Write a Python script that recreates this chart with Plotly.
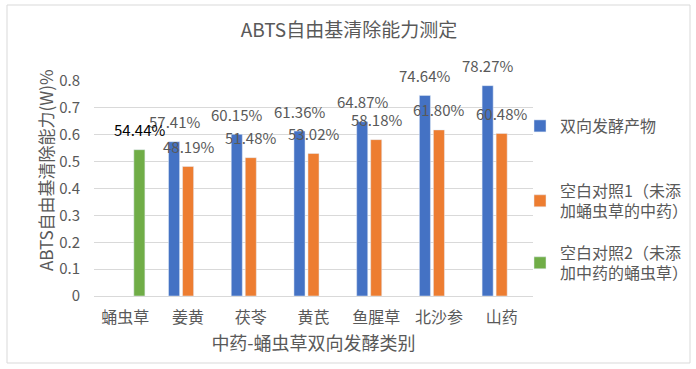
import plotly.graph_objects as go

categories = ["蛹虫草", "姜黄", "茯苓", "黄芪", "鱼腥草", "北沙参", "山药"]
series_names = ["双向发酵产物", "空白对照1（未添<br>加蛹虫草的中药）", "空白对照2（未添<br>加中药的蛹虫草）"]
fermented = [None, 0.5741, 0.6015, 0.6136, 0.6487, 0.7464, 0.7827]
blank1 = [None, 0.4819, 0.5148, 0.5302, 0.5818, 0.6180, 0.6048]
blank2 = [0.5444, None, None, None, None, None, None]
y_ticks = [0, 0.1, 0.2, 0.3, 0.4, 0.5, 0.6, 0.7, 0.8]

colors = ["#4472C4", "#ED7D31", "#70AD47"]
label_colors = ["#595959", "#595959", "#000000"]
xshifts = [-14, 0, 14]
legends = ["legend", "legend2", "legend3"]
FONT = "Noto Sans CJK SC"

fig = go.Figure()
all_series = [fermented, blank1, blank2]
for name, vals, col, lg in zip(series_names, all_series, colors, legends):
    fig.add_trace(go.Bar(x=categories, y=vals, name=name, marker_color=col,
                         legend=lg, showlegend=True))

annotations = []
for vals, lc, xs in zip(all_series, label_colors, xshifts):
    for c, v in zip(categories, vals):
        if v is None:
            continue
        annotations.append(dict(x=c, y=v, xref="x", yref="y", text=f"{v*100:.2f}%",
                                showarrow=False, xshift=xs, yshift=20,
                                font=dict(family=FONT, size=15, color=lc)))

L, R, T, B = 94, 163, 81, 73
PW, PH = 696 - L - R, 369 - T - B

def px2x(px):
    return (px - L) / PW

def px2y(py):
    return (369 - B - py) / PH

# y-axis title (Excel centres it on the chart area rather than the plot area)
annotations.append(dict(text="ABTS自由基清除能力(W)%", xref="paper", yref="paper",
                        x=px2x(45), y=px2y(170), xanchor="center", yanchor="middle",
                        textangle=-90, showarrow=False,
                        font=dict(family=FONT, size=17, color="#595959")))

legend_common = dict(xref="paper", yref="paper", xanchor="left", yanchor="middle",
                     bgcolor="rgba(0,0,0,0)", font=dict(family=FONT, size=16, color="#595959"),
                     itemwidth=30, borderwidth=0)

fig.update_layout(
    width=696, height=369,
    margin=dict(l=L, r=R, t=T, b=B, autoexpand=False),
    paper_bgcolor="white", plot_bgcolor="white",
    barmode="group", bargap=0.33, bargroupgap=0.21,
    font=dict(family=FONT, color="#595959"),
    title=dict(text="ABTS自由基清除能力测定", x=349/696, xanchor="center",
               y=1 - 30/369, yanchor="middle",
               font=dict(family=FONT, size=19, color="#595959")),
    xaxis=dict(title=dict(text="中药-蛹虫草双向发酵类别", font=dict(family=FONT, size=18, color="#595959"),
                          standoff=10),
               tickfont=dict(family=FONT, size=16, color="#595959"),
               ticklabelstandoff=7,
               showline=True, linecolor="#d9d9d9", linewidth=1, ticks="", showgrid=False),
    yaxis=dict(range=[0, 0.8], tickvals=y_ticks, ticktext=[f"{t:g}" for t in y_ticks],
               tickfont=dict(family=FONT, size=15, color="#595959"),
               showgrid=True, gridcolor="#d9d9d9", gridwidth=1, zeroline=False, showline=False,
               ticklen=10, ticks="outside", tickcolor="white"),
    legend=dict(x=px2x(520), y=px2y(126), **legend_common),
    legend2=dict(x=px2x(520), y=px2y(201), **legend_common),
    legend3=dict(x=px2x(520), y=px2y(263), **legend_common),
    annotations=annotations,
    shapes=[dict(type="rect", xref="paper", yref="paper",
                 x0=px2x(7), x1=px2x(690), y0=px2y(363), y1=px2y(5),
                 line=dict(color="#d9d9d9", width=1), fillcolor="rgba(0,0,0,0)", layer="below")],
)

fig.write_html("out.html", config={"displayModeBar": False},
               post_script="document.body.style.margin='0';document.body.style.overflow='hidden';")
